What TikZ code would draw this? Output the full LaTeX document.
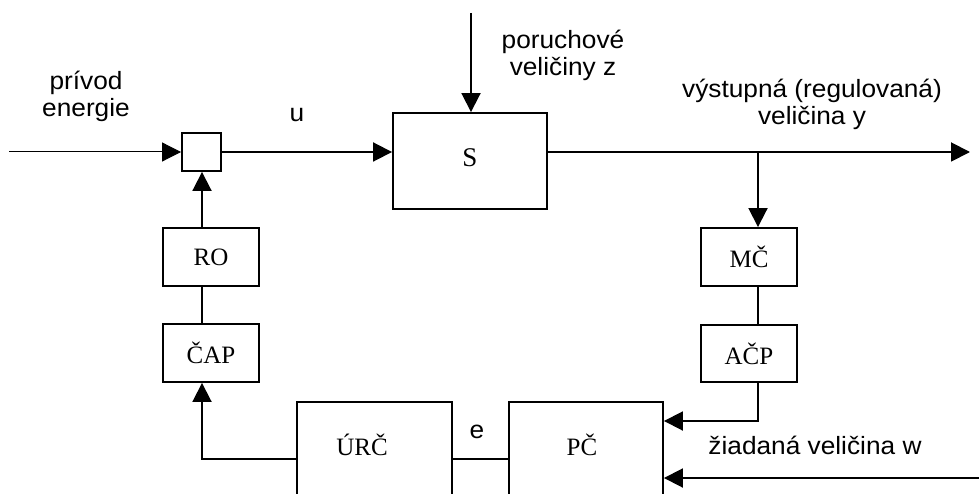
\documentclass[tikz,border=0pt]{standalone}
\usepackage{fontspec}
\setmainfont{Liberation Serif}
\newfontfamily\sansfont[FakeStretch=1.05]{Liberation Sans}
\usetikzlibrary{arrows.meta}

\tikzset{
  wire/.style={line width=1.9pt},
  thinwire/.style={line width=1pt},
  arr/.style={-{Triangle[length=19pt,width=19pt]}},
  blk/.style={draw, line width=1.9pt, inner sep=0pt, font=\fontsize{25}{28}\selectfont},
  sig/.style={font=\sansfont\fontsize{25}{27}\selectfont, align=center, inner sep=0pt},
  blabel/.style={font=\fontsize{25}{28}\selectfont, inner sep=0pt}
}

\begin{document}
\begin{tikzpicture}[x=1pt, y=-1pt]
  \useasboundingbox (0,0) rectangle (979,494);
  \clip (0,0) rectangle (979,494);

  % blocks of the control loop
  \node[blk, minimum width=39pt, minimum height=38pt] (J) at (201.5,152) {};
  \node[blk, minimum width=154pt, minimum height=96pt] (S) at (470,161) {};
  \node[blabel, font=\fontsize{27}{30}\selectfont] (Slab) at (470,158) {S};
  \node[blk, minimum width=96pt, minimum height=58pt] (RO) at (211,257) {RO};
  \node[blk, minimum width=96pt, minimum height=58pt] (CAP) at (211,353) {ČAP};
  \node[blk, minimum width=96pt, minimum height=58pt] (MC) at (749,257) {MČ};
  \node[blk, minimum width=96pt, minimum height=57pt] (ACP) at (749,353.5) {AČP};
  \node[blk, minimum width=155pt, minimum height=120pt] (URC) at (374.5,462) {};
  \node[blabel] (URClab) at (362,445) {ÚRČ};
  \node[blk, minimum width=154pt, minimum height=120pt] (PC) at (586,462) {};
  \node[blabel] (PClab) at (582,445) {PČ};

  % free ends of the signals
  \coordinate (in) at (9,152);
  \coordinate (dist) at (471,13);
  \coordinate (out) at (970,152);
  \coordinate (br) at (758,152);
  \coordinate (fb) at (758,421);
  \coordinate (w) at (979,478);
  \coordinate (lc) at (202,459);

  % connectors
  \draw[thinwire, arr] (in) -- (J.west);
  \draw[wire, arr] (J.east) -- (J.east -| S.west);
  \draw[wire, arr] (dist) -- (dist |- S.north);
  \draw[wire, arr] (S.east |- out) -- (out);
  \draw[wire, arr] (br) -- (br |- MC.north);
  \draw[wire] (br |- MC.south) -- (br |- ACP.north);
  \draw[wire, arr] (br |- ACP.south) -- (fb) -- (fb -| PC.east);
  \draw[wire, arr] (w) -- (w -| PC.east);
  \draw[wire] (URC.east |- lc) -- (PC.west |- lc);
  \draw[wire, arr] (URC.west |- lc) -- (lc) -- (lc |- CAP.south);
  \draw[wire] (lc |- CAP.north) -- (lc |- RO.south);
  \draw[wire, arr] (lc |- RO.north) -- (lc |- J.south);

  % signal names
  \node[sig] (tin) at (86,96) {prívod\\energie};
  \node[sig] (tu) at (297,115) {u};
  \node[sig] (tz) at (563,55) {poruchové\\veličiny z};
  \node[sig] (ty) at (812,104) {výstupná (regulovaná)\\veličina y};
  \node[sig] (te) at (477,432) {e};
  \node[sig] (tw) at (815,445) {žiadaná veličina w};
\end{tikzpicture}
\end{document}
